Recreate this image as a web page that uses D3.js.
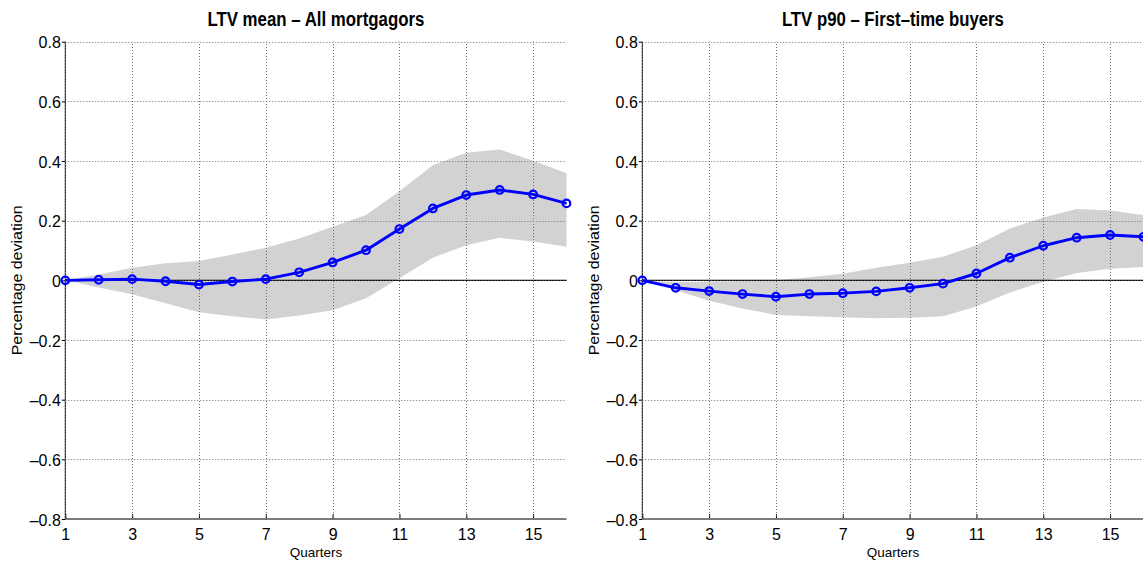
<!DOCTYPE html>
<html>
<head>
<meta charset="utf-8">
<script src="https://cdn.jsdelivr.net/npm/d3@7"></script>
<style>
  html, body { margin: 0; padding: 0; background: #fff; }
  svg { display: block; font-family: "Liberation Sans", Arial, Helvetica, sans-serif; }
</style>
</head>
<body>
<svg id="chart" width="1143" height="565"></svg>
<script>
// Horizon in quarters
const quarters = [1, 2, 3, 4, 5, 6, 7, 8, 9, 10, 11, 12, 13, 14, 15, 16];
const xTicks = [1, 3, 5, 7, 9, 11, 13, 15];
const yTicks = [-0.8, -0.6, -0.4, -0.2, 0, 0.2, 0.4, 0.6, 0.8];
const yTickLabels = ["\u20130.8", "\u20130.6", "\u20130.4", "\u20130.2", "0", "0.2", "0.4", "0.6", "0.8"];

// LTV mean, all mortgagors: impulse response and confidence band
const meanAll      = [0, 0.002, 0.004, -0.003, -0.014, -0.004, 0.004, 0.027, 0.060, 0.101, 0.172, 0.241, 0.286, 0.303, 0.288, 0.258];
const meanAllUpper = [0, 0.020, 0.042, 0.057, 0.065, 0.087, 0.109, 0.140, 0.180, 0.219, 0.299, 0.386, 0.428, 0.439, 0.401, 0.359];
const meanAllLower = [0, -0.024, -0.047, -0.077, -0.107, -0.120, -0.131, -0.118, -0.100, -0.060, 0.007, 0.076, 0.118, 0.143, 0.130, 0.113];

// LTV p90, first-time buyers: impulse response and confidence band
const p90First      = [0, -0.025, -0.036, -0.046, -0.055, -0.046, -0.043, -0.037, -0.025, -0.011, 0.023, 0.076, 0.116, 0.143, 0.152, 0.146];
const p90FirstUpper = [0, -0.006, -0.004, -0.002, 0.000, 0.010, 0.022, 0.042, 0.059, 0.079, 0.118, 0.174, 0.211, 0.239, 0.234, 0.219];
const p90FirstLower = [0, -0.033, -0.068, -0.094, -0.116, -0.120, -0.124, -0.127, -0.125, -0.120, -0.088, -0.041, -0.005, 0.025, 0.039, 0.045];

const panels = [
  { title: "LTV mean \u2013 All mortgagors", titleWidth: 217, mid: meanAll, upper: meanAllUpper, lower: meanAllLower, left: 65.3 },
  { title: "LTV p90 \u2013 First\u2013time buyers", titleWidth: 222, mid: p90First, upper: p90FirstUpper, lower: p90FirstLower, left: 642.3 }
];

const svg = d3.select("#chart");
const plotW = 501.2, plotTop = 41.7, plotBottom = 519;

panels.forEach(p => {
  const x = d3.scaleLinear().domain([1, 16]).range([p.left, p.left + plotW]);
  const y = d3.scaleLinear().domain([-0.8, 0.8]).range([plotBottom, plotTop]);
  const g = svg.append("g");
  const rows = quarters.map((q, i) => ({ q, m: p.mid[i], hi: p.upper[i], lo: p.lower[i] }));

  // confidence band
  g.append("path")
    .datum(rows)
    .attr("fill", "#d2d2d2")
    .attr("d", d3.area().x(d => x(d.q)).y0(d => y(d.lo)).y1(d => y(d.hi)));

  // zero reference line
  g.append("line")
    .attr("x1", x(1)).attr("x2", x(16))
    .attr("y1", y(0)).attr("y2", y(0))
    .attr("stroke", "#000").attr("stroke-width", 1.1);

  // axes (box off: left and bottom only)
  const yAxis = d3.axisLeft(y).tickValues(yTicks)
    .tickFormat((d, i) => yTickLabels[i]).tickSize(3.5).tickPadding(1);
  const ya = g.append("g").attr("transform", `translate(${x(1)},0)`).call(yAxis);
  ya.select(".domain").attr("d", `M0,${plotBottom}V${plotTop}`).attr("stroke", "#000");
  ya.selectAll(".tick text").attr("font-size", 16).attr("fill", "#000").attr("dy", "0.38em")
    .attr("font-family", "'Liberation Sans', Arial, sans-serif");

  const xAxis = d3.axisBottom(x).tickValues(xTicks).tickFormat(d3.format("d")).tickSize(0).tickPadding(10);
  const xa = g.append("g").attr("transform", `translate(0,${plotBottom})`).call(xAxis);
  xa.select(".domain").attr("d", `M${x(1)},0H${x(16)}`).attr("stroke", "#000");
  xa.selectAll(".tick text").attr("font-size", 16).attr("fill", "#000")
    .attr("font-family", "'Liberation Sans', Arial, sans-serif");
  // inward tick marks on the x axis
  xa.selectAll(".tick").append("line").attr("y1", 0).attr("y2", -5).attr("stroke", "#000");

  // dotted grid
  const grid = g.append("g").attr("stroke", "#6e6e6e").attr("stroke-width", 1)
    .attr("stroke-dasharray", "1,2");
  grid.selectAll("line.v").data(xTicks).join("line")
    .attr("x1", d => Math.round(x(d)) + 0.5).attr("x2", d => Math.round(x(d)) + 0.5)
    .attr("y1", plotBottom).attr("y2", plotTop);
  grid.selectAll("line.h").data(yTicks).join("line")
    .attr("x1", x(1)).attr("x2", x(16))
    .attr("y1", d => Math.round(y(d)) + 0.5).attr("y2", d => Math.round(y(d)) + 0.5);

  // impulse response line with circle markers
  g.append("path")
    .datum(rows)
    .attr("fill", "none").attr("stroke", "#0000ff").attr("stroke-width", 2.9)
    .attr("stroke-linejoin", "round")
    .attr("d", d3.line().x(d => x(d.q)).y(d => y(d.m)));
  g.selectAll("circle").data(rows).join("circle")
    .attr("cx", d => x(d.q)).attr("cy", d => y(d.m)).attr("r", 3.8)
    .attr("fill", "none").attr("stroke", "#0000ff").attr("stroke-width", 2.2);

  // title
  g.append("text")
    .attr("x", x(1) + plotW / 2).attr("y", 26)
    .attr("text-anchor", "middle").attr("font-size", 20).attr("font-weight", "bold")
    .attr("textLength", p.titleWidth).attr("lengthAdjust", "spacingAndGlyphs")
    .text(p.title);

  // axis labels
  g.append("text")
    .attr("x", x(1) + plotW / 2).attr("y", 556.5)
    .attr("text-anchor", "middle").attr("font-size", 13.5)
    .text("Quarters");
  g.append("text")
    .attr("transform", `translate(${x(1) - 43},${y(0)}) rotate(-90)`)
    .attr("text-anchor", "middle").attr("font-size", 15)
    .attr("textLength", 150).attr("lengthAdjust", "spacingAndGlyphs")
    .text("Percentage deviation");
});
</script>
</body>
</html>
